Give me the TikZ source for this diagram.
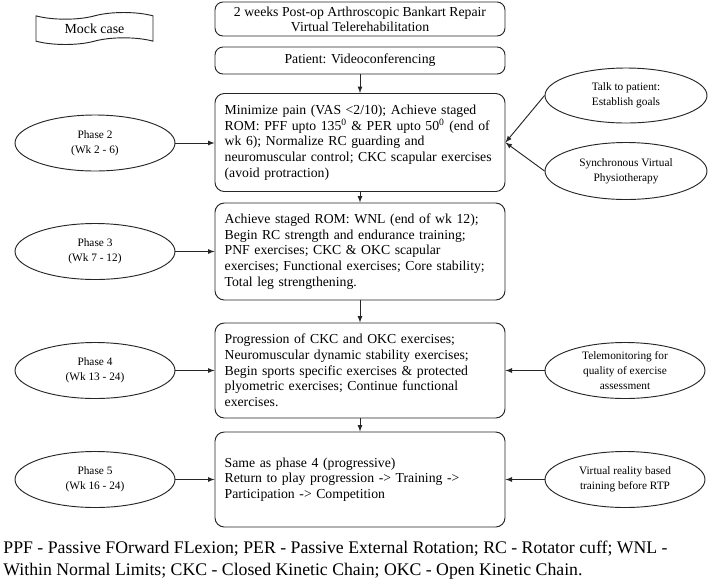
\documentclass[tikz,border=0pt]{standalone}
\usepackage{fontspec}
\setmainfont{Liberation Serif}
\usepackage{tikz}
\usetikzlibrary{arrows,shapes.geometric,shapes.symbols,positioning}

\begin{document}
\begin{tikzpicture}[>=latex, x=0.75pt, y=-0.75pt, line width=0.7pt, draw=black!85,
		stage/.style={draw, rounded corners=7pt, text width=203pt, inner xsep=7.25pt, align=left, font=\fontsize{10.3}{11.8}\selectfont},
		head/.style={draw, rounded corners=6pt, minimum width=217.5pt, align=center, font=\fontsize{10.3}{11.3}\selectfont},
		phase/.style={draw, ellipse, minimum width=120pt, minimum height=42pt, inner sep=0pt, align=center, font=\fontsize{8.5}{11}\selectfont},
		aid/.style={phase, minimum width=121.5pt}]
		\useasboundingbox (0,0) rectangle (708,583);
		%top
		\node [draw, tape, minimum width=87.75pt, minimum height=22.5pt, font=\fontsize{10.4}{12}\selectfont] (mock) at (94.5,28.5) {Mock case};
		\node [head, minimum height=25.5pt] (title) at (360,19) {2 weeks Post-op Arthroscopic Bankart Repair\\Virtual Telerehabilitation};
		\node [head, minimum height=20.25pt] (patient) at (360,60.5) {Patient: Videoconferencing};
		%stages
		\node [stage, minimum height=73.5pt] (rom) at (360,142.5) {\hyphenpenalty=10000 Minimize pain (VAS <2/10); Achieve staged\\ROM: PFF upto 135\textsuperscript{0} \& PER upto 50\textsuperscript{0} (end of\\wk 6); Normalize RC guarding and\\neuromuscular control; CKC scapular exercises\\(avoid protraction)};
		\node [stage, minimum height=72.75pt] (strength) at (360,251.5) {Achieve staged ROM: WNL (end of wk 12);\\Begin RC strength and endurance training;\\PNF exercises; CKC \& OKC scapular\\exercises; Functional exercises; Core stability;\\Total leg strengthening.};
		\node [stage, minimum height=71.25pt] (sport) at (360,370.5) {Progression of CKC and OKC exercises;\\Neuromuscular dynamic stability exercises;\\Begin sports specific exercises \& protected\\plyometric exercises; Continue functional\\exercises.};
		\node [stage, minimum height=71.25pt] (rtp) at (360,479.5) {Same as phase 4 (progressive)\\Return to play progression -> Training ->\\Participation -> Competition};
		%phases
		\node [phase] (ph2) at (95,143) {Phase 2\\(Wk 2 - 6)};
		\node [phase] (ph3) at (95,251.5) {Phase 3\\(Wk 7 - 12)};
		\node [phase] (ph4) at (95,370.5) {Phase 4\\(Wk 13 - 24)};
		\node [phase] (ph5) at (95,479.5) {Phase 5\\(Wk 16 - 24)};
		%right side
		\node [aid, minimum height=41.25pt] (talk) at (626,95.5) {Talk to patient:\\Establish goals};
		\node [aid, minimum height=42.75pt] (sync) at (626,171) {Synchronous Virtual\\Physiotherapy};
		\node [phase] (tele) at (625,370.5) {Telemonitoring for\\quality of exercise\\assessment};
		\node [phase] (vr) at (625,479.5) {Virtual reality based\\training before RTP};
		%arrows
		\draw [->] (patient) -- (rom);
		\draw [->] (rom) -- (strength);
		\draw [->] (strength) -- (sport);
		\draw [->] (sport) -- (rtp);
		\draw [->] (ph2.east) -- (ph2.east -| rom.west);
		\draw [->] (ph3) -- (strength);
		\draw [->] (ph4) -- (sport);
		\draw [->] (ph5) -- (rtp);
		\draw [->] (talk.west) -- (rom.east);
		\draw [->] (sync.west) -- (rom.east);
		\draw [->] (tele) -- (sport);
		\draw [->] (vr) -- (rtp);
		%abbreviations
		\node [anchor=base west, inner sep=0pt, font=\fontsize{13.3}{16.5}\selectfont] (abbr1) at (3,553) {PPF - Passive FOrward FLexion; PER - Passive External Rotation; RC - Rotator cuff; WNL -};
		\node [anchor=base west, inner sep=0pt, font=\fontsize{13.3}{16.5}\selectfont] (abbr2) at (3,575) {Within Normal Limits; CKC - Closed Kinetic Chain; OKC - Open Kinetic Chain.};
	\end{tikzpicture}
\end{document}
